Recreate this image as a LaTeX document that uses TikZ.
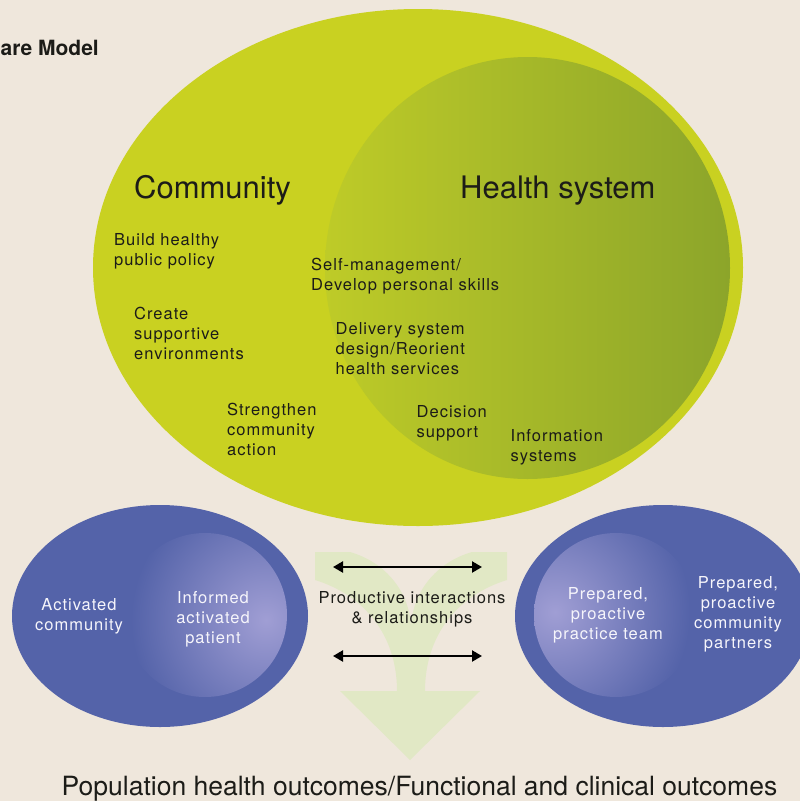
\documentclass[tikz,border=0pt]{standalone}
\usepackage{fontspec}
\setmainfont{TeX Gyre Heros}
\newfontfamily\spacedfont[LetterSpace=6]{TeX Gyre Heros}
\usetikzlibrary{arrows,arrows.meta,shapes}

\definecolor{paper}{RGB}{239,231,220}
\definecolor{limegreen}{RGB}{201,209,33}
\definecolor{healthlight}{RGB}{190,203,40}
\definecolor{healthdark}{RGB}{140,165,42}
\definecolor{ovalblue}{RGB}{84,99,169}
\definecolor{lavender}{RGB}{160,158,212}
\definecolor{flowgreen}{RGB}{225,232,197}
\definecolor{inktext}{RGB}{28,28,24}

\tikzset{
  heading/.style={anchor=north west, inner sep=0pt, text=inktext,
    font=\fontsize{31}{34}\selectfont},
  greenlabel/.style={anchor=north west, align=left, inner sep=0pt, text=inktext,
    font=\spacedfont\fontsize{16.5}{20}\selectfont},
  bluelabel/.style={anchor=north, align=center, inner sep=0pt, text=white!90!lavender,
    font=\spacedfont\fontsize{16.5}{20}\selectfont},
  linkarrow/.style={{Triangle[length=10pt,width=11pt]}-{Triangle[length=10pt,width=11pt]}, line width=2.2pt},
}

\begin{document}
\begin{tikzpicture}[x=1pt,y=-1pt]
\useasboundingbox (0,0) rectangle (800,801);
\clip (0,0) rectangle (800,801);
\fill[paper] (0,0) rectangle (800,801);

\begin{scope}[fill=flowgreen]
\pgfpathmoveto{ \pgfpointxy {315} {552}}
\pgfpathlineto{ \pgfpointxy {350} {552}}
\pgfpathcurveto{ \pgfpointxy {385} {562}}{ \pgfpointxy {411} {592}}{ \pgfpointxy {411} {630}}
\pgfpathcurveto{ \pgfpointxy {411} {592}}{ \pgfpointxy {437} {562}}{ \pgfpointxy {472} {552}}
\pgfpathlineto{ \pgfpointxy {507} {552}}
\pgfpathlineto{ \pgfpointxy {507} {580}}
\pgfpathcurveto{ \pgfpointxy {458} {595}}{ \pgfpointxy {425} {635}}{ \pgfpointxy {425} {691}}
\pgfpathlineto{ \pgfpointxy {480} {691}}
\pgfpathlineto{ \pgfpointxy {410} {760}}
\pgfpathlineto{ \pgfpointxy {340} {691}}
\pgfpathlineto{ \pgfpointxy {397} {691}}
\pgfpathcurveto{ \pgfpointxy {397} {635}}{ \pgfpointxy {364} {595}}{ \pgfpointxy {315} {580}}
\pgfpathclose
\pgfusepath{ fill, }
\end{scope}

\fill[limegreen] (418,267.5) ellipse (325pt and 258.5pt);
\shade[left color=healthlight, right color=healthdark] (527.5,268) ellipse (202.5pt and 211pt);

\fill[ovalblue] (160,616) ellipse (148pt and 111pt);
\fill[ovalblue] (663,616) ellipse (148pt and 111pt);
\begin{scope}
\clip (205,615) circle (82pt);
\shade[inner color=lavender, outer color=ovalblue] (266,620) circle (135pt);
\end{scope}
\begin{scope}
\clip (616,615) circle (82pt);
\shade[inner color=lavender, outer color=ovalblue] (555,612) circle (135pt);
\end{scope}

\node[anchor=base west, inner sep=0pt, text=inktext, font=\bfseries\fontsize{21}{24}\selectfont] (title) at (0.5,55) {are Model};

\node[heading] (community) at (134,175) {Community};
\node[heading] (healthsys) at (460,175.5) {Health system};

\node[greenlabel] (policy) at (114,233) {Build healthy\\public policy};
\node[greenlabel] (environ) at (134,307) {Create\\supportive\\environments};
\node[greenlabel] (action) at (227,403) {Strengthen\\community\\action};
\node[greenlabel] (selfmgmt) at (311,258) {Self-management/\\Develop personal skills};
\node[greenlabel] (delivery) at (335.5,322.5) {Delivery system\\design/Reorient\\health services};
\node[greenlabel] (decision) at (416.5,405.5) {Decision\\support};
\node[greenlabel] (infosys) at (510.5,429.5) {Information\\systems};

\node[bluelabel] (actcomm) at (79,598) {Activated\\community};
\node[bluelabel] (patient) at (213,591) {Informed\\activated\\patient};
\node[bluelabel] (team) at (608,587.5) {Prepared,\\proactive\\practice team};
\node[bluelabel] (partners) at (738,576.5) {Prepared,\\proactive\\community\\partners};

\node[bluelabel, text=inktext] (interact) at (412,591.5) {Productive interactions\\\& relationships};

\coordinate (upperL) at (333,567);
\coordinate (upperR) at (482,567);
\coordinate (lowerL) at (333,656);
\coordinate (lowerR) at (482,656);
\draw[linkarrow] (upperL) -- (upperR);
\draw[linkarrow] (lowerL) -- (lowerR);

\node[anchor=base, inner sep=0pt, text=inktext, font=\fontsize{26.5}{30}\selectfont] (outcomes) at (419.5,795) {Population health outcomes/Functional and clinical outcomes};
\end{tikzpicture}
\end{document}
